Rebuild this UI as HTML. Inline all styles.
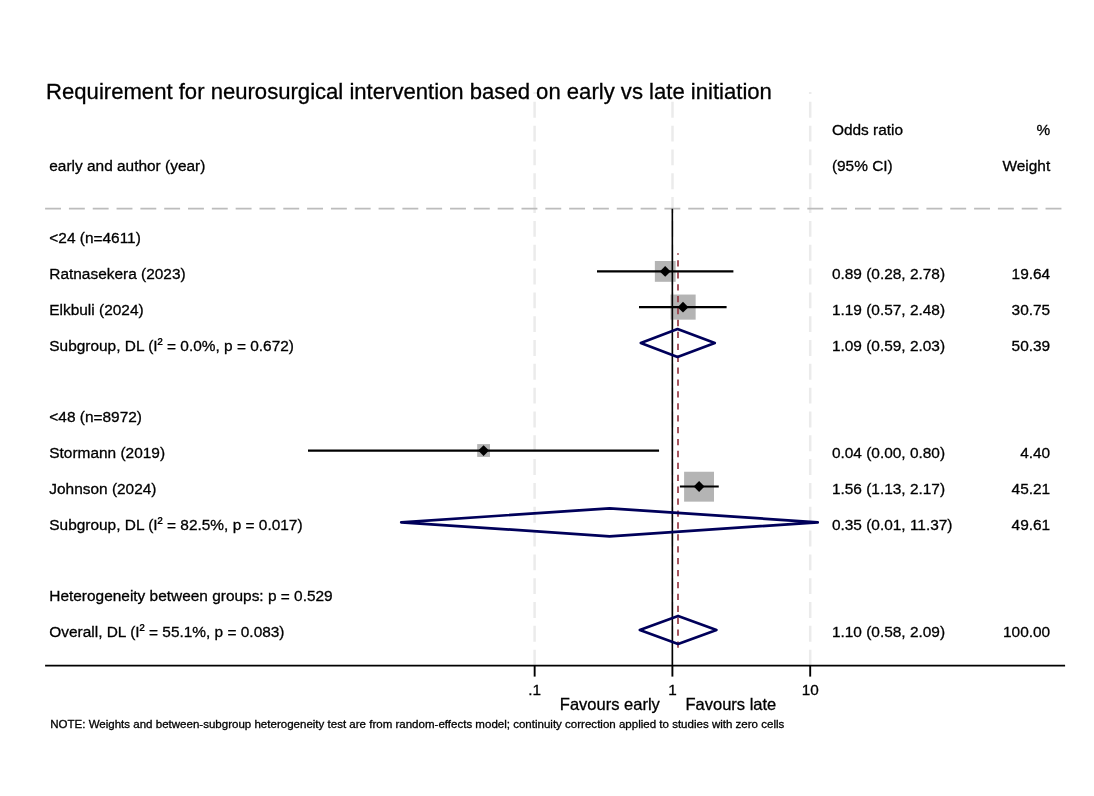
<!DOCTYPE html>
<html><head><meta charset="utf-8"><title>Forest plot</title>
<style>html,body{margin:0;padding:0;background:#fff;overflow:hidden;}svg{display:block;}text{font-family:"Liberation Sans", Arial, Helvetica, sans-serif;fill:#000;stroke:#000;stroke-width:0.3px;}</style>
</head><body>
<svg width="1094" height="796" viewBox="0 0 1094 796">
<rect width="1094" height="796" fill="#fff"/>
<line x1="534.6" y1="92" x2="534.6" y2="665.7" stroke="#ebebeb" stroke-width="2.5" stroke-dasharray="15.9 7.92" stroke-dashoffset="14"/>
<line x1="672.5" y1="92" x2="672.5" y2="665.7" stroke="#ebebeb" stroke-width="2.5" stroke-dasharray="15.9 7.92" stroke-dashoffset="14"/>
<line x1="810.2" y1="92" x2="810.2" y2="665.7" stroke="#ebebeb" stroke-width="2.5" stroke-dasharray="15.9 7.92" stroke-dashoffset="14"/>
<text x="46.1" y="98.9" font-size="22.1">Requirement for neurosurgical intervention based on early vs late initiation</text>
<text x="831.9" y="135.2" font-size="15.43">Odds ratio</text>
<text x="1050.2" y="135.2" font-size="15.43" text-anchor="end">%</text>
<text x="49.3" y="170.7" font-size="15.43">early and author (year)</text>
<text x="831.9" y="170.7" font-size="15.43">(95% CI)</text>
<text x="1050.2" y="170.7" font-size="15.43" text-anchor="end">Weight</text>
<line x1="45.1" y1="208.7" x2="1061.8" y2="208.7" stroke="#bcbcbc" stroke-width="1.8" stroke-dasharray="15.9 7.92"/>
<text x="49.3" y="243.00" font-size="15.43">&lt;24 (n<tspan baseline-shift="-1.1">=</tspan>4611)</text>
<text x="49.3" y="279.00" font-size="15.43">Ratnasekera (2023)</text>
<text x="831.9" y="279.00" font-size="15.43">0.89 (0.28, 2.78)</text>
<text x="1050.2" y="279.00" font-size="15.43" text-anchor="end">19.64</text>
<text x="49.3" y="315.00" font-size="15.43">Elkbuli (2024)</text>
<text x="831.9" y="315.00" font-size="15.43">1.19 (0.57, 2.48)</text>
<text x="1050.2" y="315.00" font-size="15.43" text-anchor="end">30.75</text>
<text x="49.3" y="351.00" font-size="15.43">Subgroup, DL (I<tspan baseline-shift="2">²</tspan> <tspan baseline-shift="-1.1">=</tspan> 0.0%, p <tspan baseline-shift="-1.1">=</tspan> 0.672)</text>
<text x="831.9" y="351.00" font-size="15.43">1.09 (0.59, 2.03)</text>
<text x="1050.2" y="351.00" font-size="15.43" text-anchor="end">50.39</text>
<text x="49.3" y="422.00" font-size="15.43">&lt;48 (n<tspan baseline-shift="-1.1">=</tspan>8972)</text>
<text x="49.3" y="458.00" font-size="15.43">Stormann (2019)</text>
<text x="831.9" y="458.00" font-size="15.43">0.04 (0.00, 0.80)</text>
<text x="1050.2" y="458.00" font-size="15.43" text-anchor="end">4.40</text>
<text x="49.3" y="494.00" font-size="15.43">Johnson (2024)</text>
<text x="831.9" y="494.00" font-size="15.43">1.56 (1.13, 2.17)</text>
<text x="1050.2" y="494.00" font-size="15.43" text-anchor="end">45.21</text>
<text x="49.3" y="530.00" font-size="15.43">Subgroup, DL (I<tspan baseline-shift="2">²</tspan> <tspan baseline-shift="-1.1">=</tspan> 82.5%, p <tspan baseline-shift="-1.1">=</tspan> 0.017)</text>
<text x="831.9" y="530.00" font-size="15.43">0.35 (0.01, 11.37)</text>
<text x="1050.2" y="530.00" font-size="15.43" text-anchor="end">49.61</text>
<text x="49.3" y="601.00" font-size="15.43">Heterogeneity between groups: p <tspan baseline-shift="-1.1">=</tspan> 0.529</text>
<text x="49.3" y="637.00" font-size="15.43">Overall, DL (I<tspan baseline-shift="2">²</tspan> <tspan baseline-shift="-1.1">=</tspan> 55.1%, p <tspan baseline-shift="-1.1">=</tspan> 0.083)</text>
<text x="831.9" y="637.00" font-size="15.43">1.10 (0.58, 2.09)</text>
<text x="1050.2" y="637.00" font-size="15.43" text-anchor="end">100.00</text>
<rect x="654.85" y="261.00" width="20.8" height="20.8" fill="#b4b4b4"/>
<rect x="670.55" y="294.55" width="25.1" height="25.1" fill="#b4b4b4"/>
<rect x="477.20" y="444.10" width="12.8" height="12.8" fill="#b4b4b4"/>
<rect x="684.10" y="471.75" width="29.9" height="29.9" fill="#b4b4b4"/>
<line x1="672.35" y1="208.7" x2="672.35" y2="665.7" stroke="#000" stroke-width="1.6"/>
<line x1="678.0" y1="253.3" x2="678.0" y2="647.7" stroke="#963a45" stroke-width="1.7" stroke-dasharray="6.3 5.61" stroke-dashoffset="4.9"/>
<line x1="597.0" y1="271.4" x2="733.4" y2="271.4" stroke="#000" stroke-width="2.2"/>
<line x1="639.0" y1="307.1" x2="726.6" y2="307.1" stroke="#000" stroke-width="2.2"/>
<line x1="308.0" y1="450.6" x2="659.06" y2="450.6" stroke="#000" stroke-width="2.2"/>
<line x1="679.9" y1="486.5" x2="718.75" y2="486.5" stroke="#000" stroke-width="2.2"/>
<path d="M659.80 271.4L665.2 266.00L670.60 271.4L665.2 276.80Z" fill="#000"/>
<path d="M677.60 307.2L683.0 301.80L688.40 307.2L683.0 312.60Z" fill="#000"/>
<path d="M478.20 450.6L483.6 445.20L489.00 450.6L483.6 456.00Z" fill="#000"/>
<path d="M693.70 486.5L699.1 481.10L704.50 486.5L699.1 491.90Z" fill="#000"/>
<path d="M640.8 343.0L677.56 329.0L714.8 343.0L677.56 357.0Z" fill="none" stroke="#00005a" stroke-width="2.7" stroke-linejoin="round"/>
<path d="M401.2 522.3L609.6 508.29999999999995L817.7 522.3L609.6 536.3Z" fill="none" stroke="#00005a" stroke-width="2.7" stroke-linejoin="round"/>
<path d="M639.8 629.9L678.1 615.9L716.5 629.9L678.1 643.9Z" fill="none" stroke="#00005a" stroke-width="2.7" stroke-linejoin="round"/>
<line x1="45.1" y1="665.7" x2="1065.1" y2="665.7" stroke="#000" stroke-width="1.8"/>
<line x1="534.65" y1="665.7" x2="534.65" y2="676.6" stroke="#000" stroke-width="1.9"/>
<line x1="672.4" y1="665.7" x2="672.4" y2="676.6" stroke="#000" stroke-width="1.9"/>
<line x1="810.2" y1="665.7" x2="810.2" y2="676.6" stroke="#000" stroke-width="1.9"/>
<text x="534.65" y="694.9" font-size="15.3" text-anchor="middle">.1</text>
<text x="672.4" y="694.9" font-size="15.3" text-anchor="middle">1</text>
<text x="810.2" y="694.9" font-size="15.3" text-anchor="middle">10</text>
<text x="659.8" y="709.7" font-size="16.5" text-anchor="end">Favours early</text>
<text x="685.5" y="709.7" font-size="16.5">Favours late</text>
<text x="50.2" y="727.7" font-size="11.545">NOTE: Weights and between-subgroup heterogeneity test are from random-effects model; continuity correction applied to studies with zero cells</text>
</svg>
</body></html>
